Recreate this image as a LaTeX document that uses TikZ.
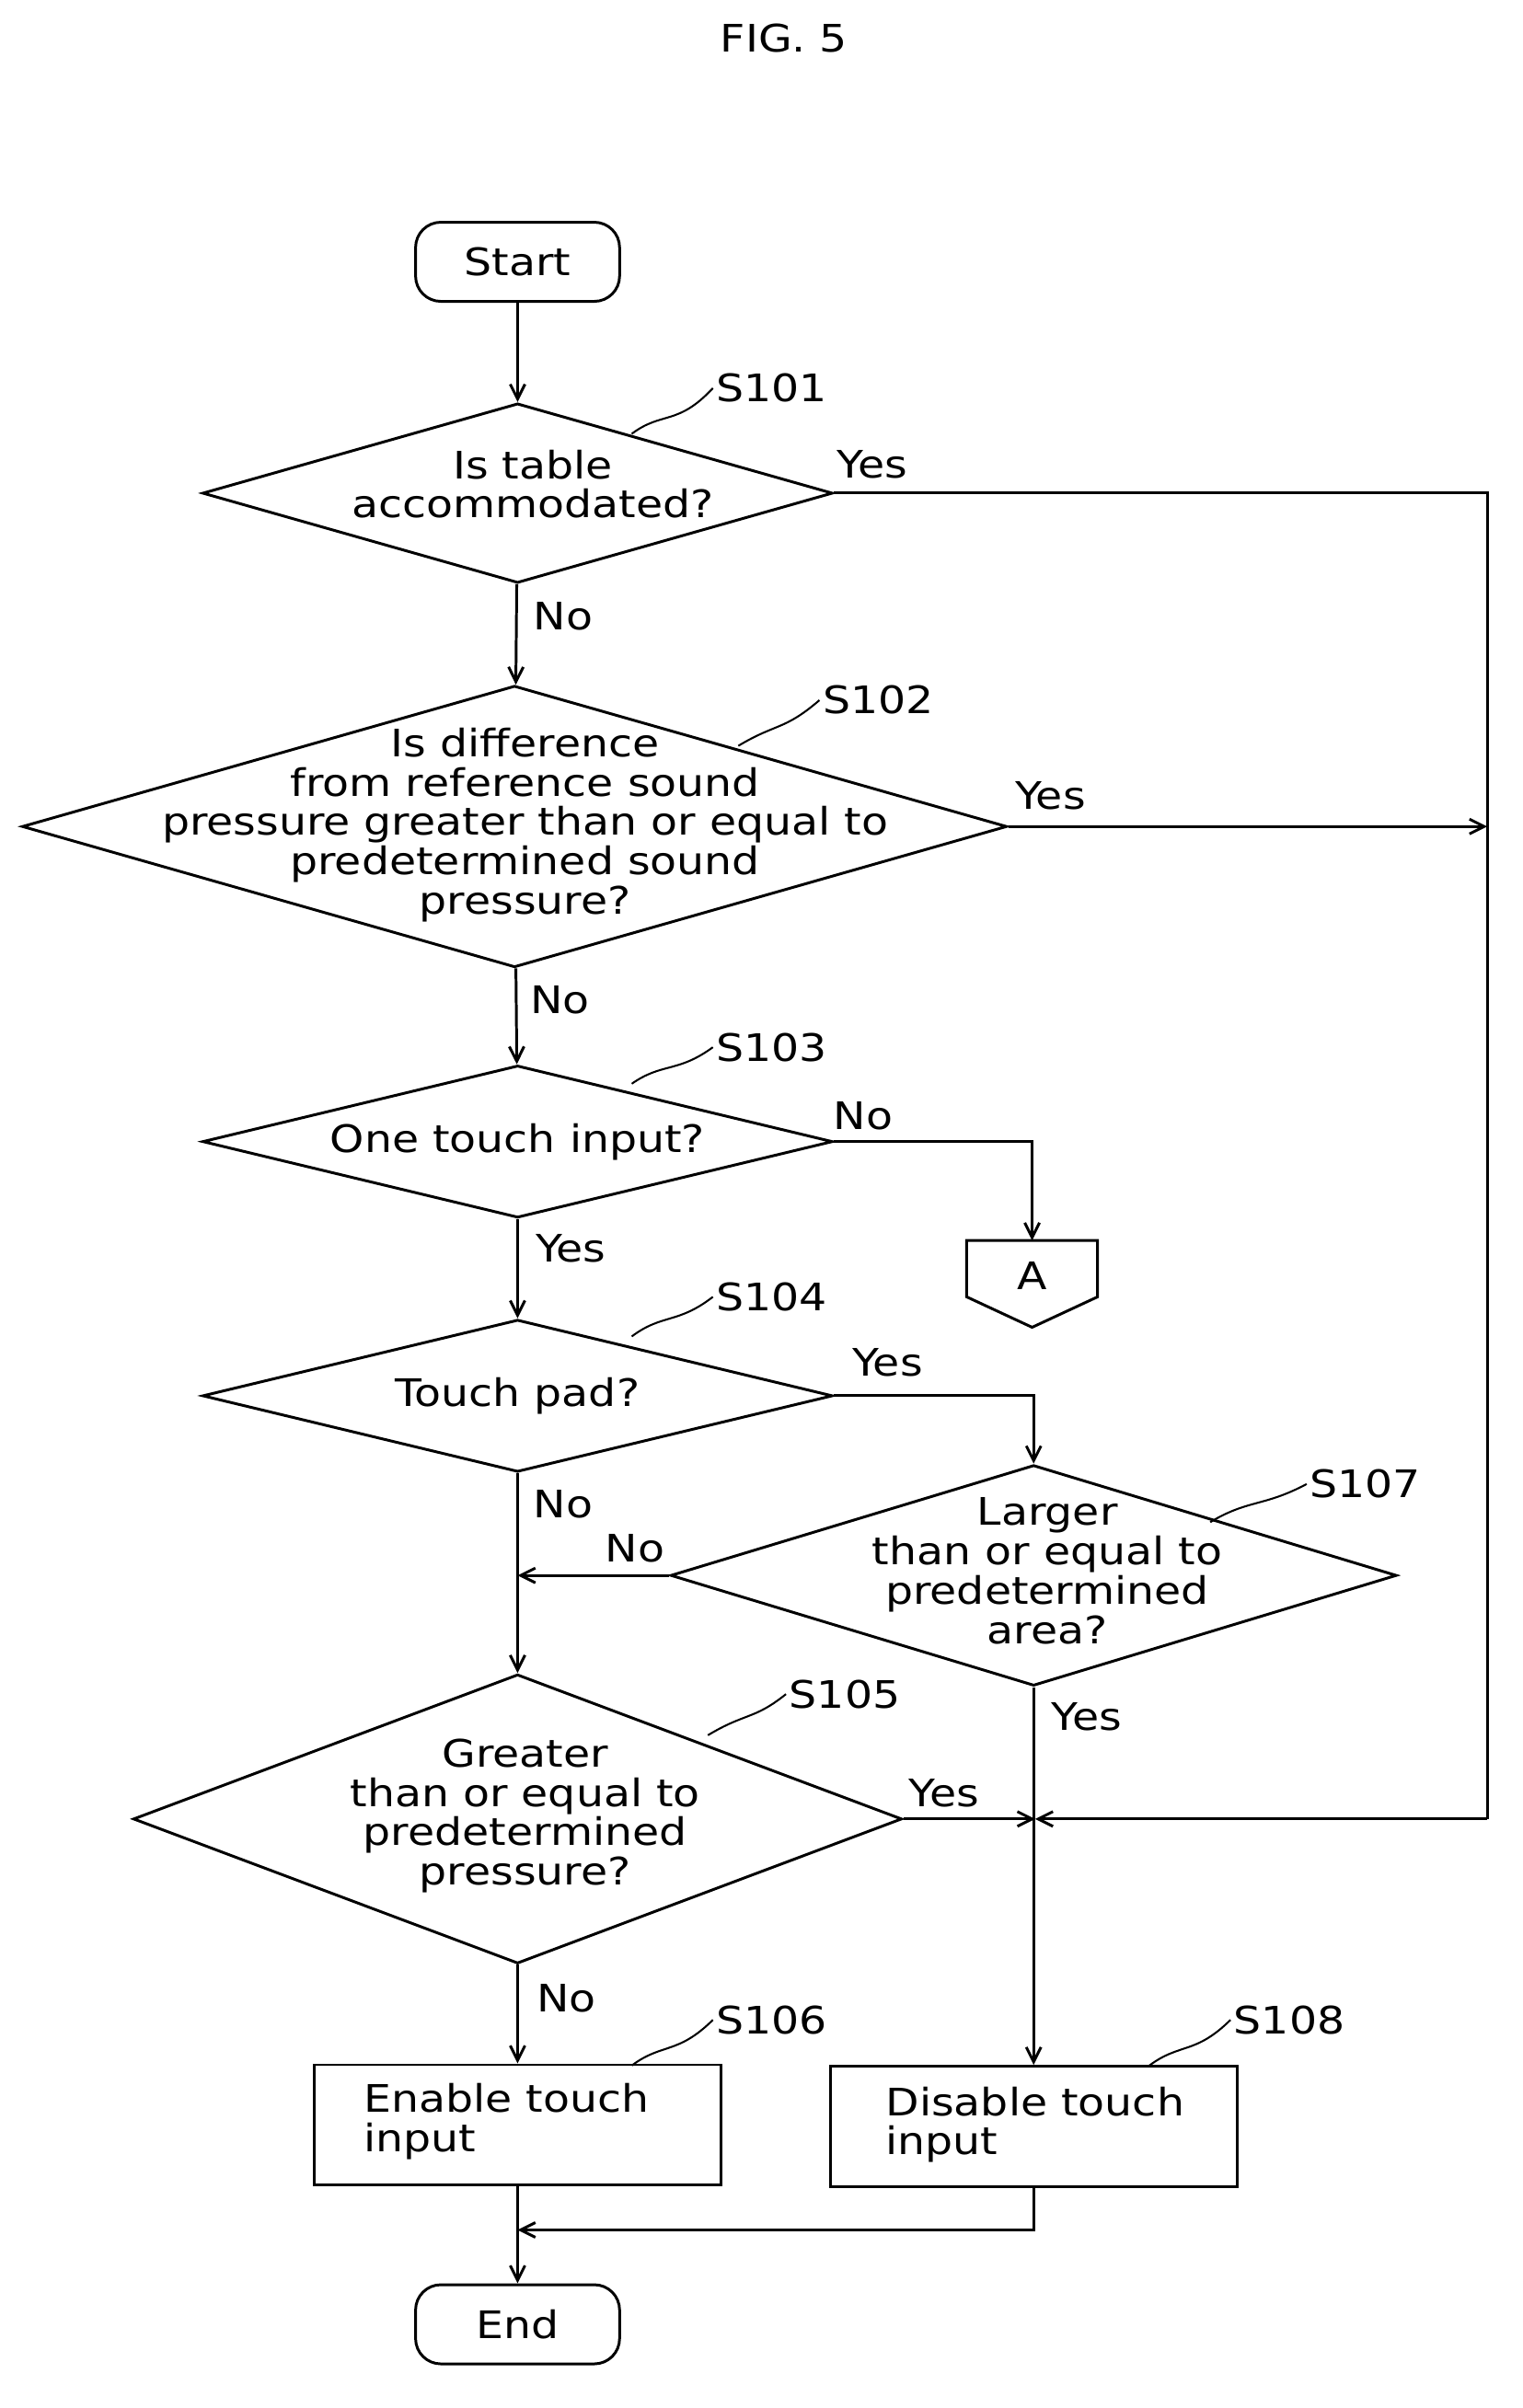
\documentclass[tikz,border=0pt]{standalone}
\usepackage{fontspec}
\setmainfont{DejaVu Sans}[FakeStretch=1.15]
\usetikzlibrary{arrows.meta,shapes.geometric}
\begin{document}
\def\U{0.0254cm}
\begin{tikzpicture}[x=0.0254cm,y=0.0254cm,line width=1.3pt,
  font=\fontsize{18}{18.7}\selectfont,
  arr/.style={-{Straight Barb[length=7pt,width=7pt]}},
  dia/.style={draw,diamond,inner sep=0pt},
  txt/.style={align=center,inner sep=0pt},
  term/.style={draw,rounded corners=12pt,minimum width=134*\U,minimum height=52*\U},
  box/.style={draw,minimum width=267*\U,minimum height=79*\U},
  lab/.style={inner sep=1pt},
  sq/.style={line width=0.9pt}]
\useasboundingbox (0,0) rectangle (1000,-1582);
\node[lab] (fig) at (515,-25) {FIG. 5};
\node[term] (start) at (340,-172) {Start};
% S101
\node[dia,minimum width=414*\U,minimum height=118*\U] (d1) at (340,-324) {};
\node[txt] (t1) at (350,-318) {Is table\\accommodated?};
\node[lab] (l1) at (507,-255) {S101};
\draw[sq] (415,-285) .. controls (435,-270) and (445,-280) .. (l1.west);
% S102
\node[dia,minimum width=647*\U,minimum height=185*\U] (d2) at (338,-543) {};
\node[txt] (t2) at (345,-542) {Is difference\\from reference sound\\pressure greater than or equal to\\predetermined sound\\pressure?};
\node[lab] (l2) at (577,-460) {S102};
\draw[sq] (485,-490) .. controls (510,-475) and (515,-480) .. (l2.west);
% S103
\node[dia,minimum width=414*\U,minimum height=100*\U] (d3) at (340,-750) {};
\node[txt] (t3) at (340,-750) {One touch input?};
\node[lab] (l3) at (507,-688) {S103};
\draw[sq] (415,-712) .. controls (435,-698) and (445,-705) .. (l3.west);
% A connector
\coordinate (aT) at (678,-815);
\draw (635,-815) -- (721,-815) -- (721,-852) -- (678,-872) -- (635,-852) -- cycle;
\node[txt] (A) at (678,-838) {A};
% S104
\node[dia,minimum width=414*\U,minimum height=100*\U] (d4) at (340,-917) {};
\node[txt] (t4) at (340,-917) {Touch pad?};
\node[lab] (l4) at (507,-852) {S104};
\draw[sq] (415,-878) .. controls (435,-863) and (445,-870) .. (l4.west);
% S107
\node[dia,minimum width=477*\U,minimum height=145*\U] (d7) at (679,-1035) {};
\node[txt] (t7) at (688,-1032) {Larger\\than or equal to\\predetermined\\area?};
\node[lab] (l7) at (897,-975) {S107};
\draw[sq] (795,-1000) .. controls (820,-985) and (830,-990) .. (l7.west);
% S105
\node[dia,minimum width=505*\U,minimum height=190*\U] (d5) at (340,-1195) {};
\node[txt] (t5) at (345,-1193) {Greater\\than or equal to\\predetermined\\pressure?};
\node[lab] (l5) at (555,-1113) {S105};
\draw[sq] (465,-1140) .. controls (490,-1125) and (495,-1130) .. (l5.west);
% S106, S108
\node[box] (b6) at (340,-1396) {};
\node[txt,align=left,anchor=north west] (t6) at (238,-1368) {Enable touch\\input};
\node[lab] (l6) at (507,-1327) {S106};
\draw[sq] (415,-1357) .. controls (435,-1342) and (445,-1350) .. (l6.west);
\node[box] (b8) at (679,-1397) {};
\node[txt,align=left,anchor=north west] (t8) at (581,-1370) {Disable touch\\input};
\node[lab] (l8) at (847,-1327) {S108};
\draw[sq] (755,-1357) .. controls (775,-1342) and (785,-1350) .. (l8.west);
\node[term] (end) at (340,-1527) {End};
% connectors
\coordinate (rA) at (977,-324);
\coordinate (rB) at (977,-543);
\coordinate (rC) at (977,-1195);
\coordinate (j) at (680,-1195);
\coordinate (m) at (340,-1465);
\draw[arr] (start) -- (d1);
\draw[arr] (d1) -- (d2);
\draw[arr] (d2) -- (d3);
\draw[arr] (d3) -- (d4);
\draw[arr] (d4) -- (d5);
\draw[arr] (d5) -- (b6);
\draw[arr] (b6) -- (end);
\draw (d1.east) -- (rA) -- (rC);
\draw[arr] (rC) -- (j);
\draw[arr] (d2.east) -- (rB);
\draw[arr] (d3.east) -| (aT);
\draw[arr] (d4.east) -| (d7.north);
\draw[arr] (d7.west) -- (340,-1035);
\draw[arr] (d5.east) -- (j);
\draw[arr] (d7.south) -- (b8.north);
\draw[arr] (b8.south) |- (m);
% labels
\node[lab] (y1) at (573,-305) {Yes};
\node[lab] (n1) at (370,-405) {No};
\node[lab] (y2) at (690,-523) {Yes};
\node[lab] (n2) at (368,-657) {No};
\node[lab] (n3) at (567,-733) {No};
\node[lab] (y3) at (375,-820) {Yes};
\node[lab] (y4) at (583,-895) {Yes};
\node[lab] (n4) at (370,-988) {No};
\node[lab] (n7) at (417,-1017) {No};
\node[lab] (y7) at (714,-1128) {Yes};
\node[lab] (y5) at (620,-1178) {Yes};
\node[lab] (n5) at (372,-1313) {No};
\end{tikzpicture}
\end{document}
